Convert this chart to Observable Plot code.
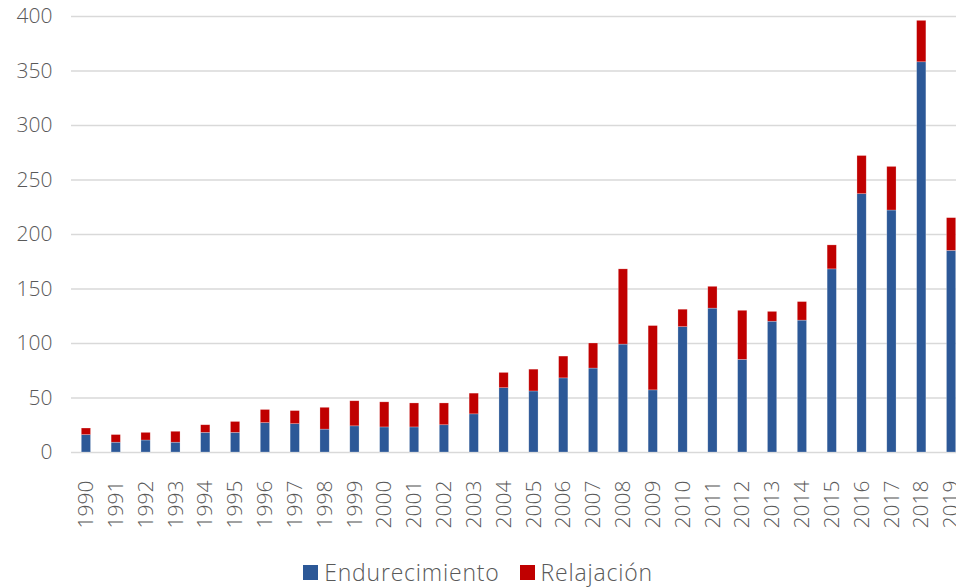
<!DOCTYPE html>
<html>
<head>
<meta charset="utf-8">
<script src="https://cdn.jsdelivr.net/npm/d3@7"></script>
<script src="https://cdn.jsdelivr.net/npm/@observablehq/plot@0.6"></script>
<style>
  html, body { margin: 0; padding: 0; background: #fff; overflow: hidden; width: 956px; height: 588px; }
  #chart { width: 956px; overflow: hidden; }
  #chart svg { display: block; max-width: none !important; }
  .legend { width: 956px; height: 32px; display: flex; justify-content: center; align-items: center; gap: 20px;
            font-family: "Open Sans", "Liberation Sans", sans-serif; font-weight: 300; font-size: 23px; letter-spacing: 0.8px; color: #595959; }
  .legend .item { display: flex; align-items: center; gap: 6px; }
  .legend .sw { width: 15px; height: 15px; display: inline-block; }
</style>
</head>
<body>
<div id="chart"></div>
<div class="legend" id="legend"></div>
<script>
const years = ["1990","1991","1992","1993","1994","1995","1996","1997","1998","1999",
               "2000","2001","2002","2003","2004","2005","2006","2007","2008","2009",
               "2010","2011","2012","2013","2014","2015","2016","2017","2018","2019"];
const endurecimiento = [16,9,11,9,18,18,27,26,21,24,23,23,25,35,59,56,68,77,99,57,115,132,85,120,121,168,237,222,358,185];
const relajacion     = [6,7,7,10,7,10,12,12,20,23,23,22,20,19,14,20,20,23,69,59,16,20,45,9,17,22,35,40,38,30];
const seriesNames = ["Endurecimiento", "Relajación"];
const seriesColors = ["#2C5897", "#C00000"];
const yTicks = [0,50,100,150,200,250,300,350,400];

const data = [];
years.forEach((y, i) => {
  data.push({year: y, serie: seriesNames[0], value: endurecimiento[i]});
  data.push({year: y, serie: seriesNames[1], value: relajacion[i]});
});

const chart = Plot.plot({
  width: 966,
  height: 556,
  marginLeft: 71,
  marginRight: 0,
  marginTop: 16,
  marginBottom: 104,
  style: {fontFamily: '"Open Sans", "Liberation Sans", sans-serif', fontWeight: 300, fontSize: "21px", color: "#595959", background: "#fff", maxWidth: "none"},
  x: {type: "band", domain: years, paddingInner: 0.69, paddingOuter: 0.345, round: false, label: null},
  y: {domain: [0, 400], label: null},
  color: {domain: seriesNames, range: seriesColors},
  marks: [
    Plot.ruleY(yTicks, {stroke: "#d9d9d9", strokeWidth: 1.5}),
    Plot.barY(data, Plot.stackY({order: seriesNames}, {x: "year", y: "value", fill: "serie", stroke: "#ffffff", strokeOpacity: 0.4, strokeWidth: 0.6})),
    Plot.axisY({ticks: yTicks, tickSize: 0, tickPadding: 19, label: null}),
    Plot.axisX({tickRotate: -90, tickSize: 0, tickPadding: 28, label: null})
  ]
});
document.getElementById("chart").appendChild(chart);

const legend = document.getElementById("legend");
seriesNames.forEach((name, i) => {
  const item = document.createElement("div");
  item.className = "item";
  const sw = document.createElement("span");
  sw.className = "sw";
  sw.style.background = seriesColors[i];
  const label = document.createElement("span");
  label.textContent = name;
  item.appendChild(sw);
  item.appendChild(label);
  legend.appendChild(item);
});
</script>
</body>
</html>
